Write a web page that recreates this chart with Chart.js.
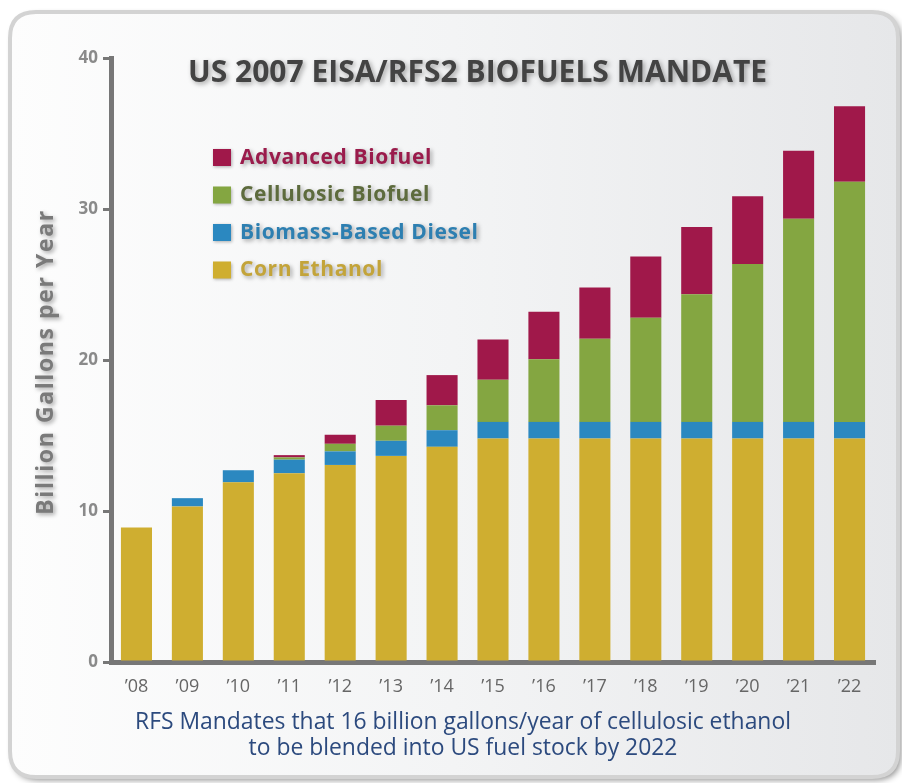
<!DOCTYPE html>
<html>
<head>
<meta charset="utf-8">
<title>US 2007 EISA/RFS2 Biofuels Mandate</title>
<script src="https://cdn.jsdelivr.net/npm/chart.js@4.4.1/dist/chart.umd.min.js"></script>
<style>
  html, body { margin: 0; padding: 0; background: #fff; }
</style>
</head>
<body>
<canvas id="myChart" width="902" height="783"></canvas>
<script>
// mandate volumes, billion gallons per year
const years = ['\u201908', '\u201909', '\u201910', '\u201911', '\u201912', '\u201913', '\u201914', '\u201915',
               '\u201916', '\u201917', '\u201918', '\u201919', '\u201920', '\u201921', '\u201922'];
const cornEthanol   = [8.9, 10.3, 11.9, 12.5, 13.05, 13.65, 14.25, 14.8, 14.8, 14.8, 14.8, 14.8, 14.8, 14.8, 14.8];
const biomassDiesel = [0, 0.55, 0.8, 0.9, 0.9, 1.0, 1.1, 1.1, 1.1, 1.1, 1.1, 1.1, 1.1, 1.1, 1.1];
const cellulosic    = [0, 0, 0, 0.15, 0.5, 1.0, 1.65, 2.8, 4.15, 5.5, 6.9, 8.45, 10.45, 13.45, 15.9];
const advanced      = [0, 0, 0, 0.15, 0.6, 1.7, 2.0, 2.65, 3.15, 3.4, 4.05, 4.45, 4.5, 4.5, 5.0];
const yTicks = [0, 10, 20, 30, 40];

const chartTitle = 'US 2007 EISA/RFS2 BIOFUELS MANDATE';
const yTitle = 'Billion Gallons per Year';
const footer = ['RFS Mandates that 16 billion gallons/year of cellulosic ethanol',
                'to be blended into US fuel stock by 2022'];

const legendText = {
    'Advanced Biofuel': '#9a1b4b',
    'Cellulosic Biofuel': '#5d6b3d',
    'Biomass-Based Diesel': '#2d7fb1',
    'Corn Ethanol': '#c3a43a'
};

function roundRect(ctx, x, y, w, h, r) {
    ctx.beginPath();
    ctx.moveTo(x + r, y);
    ctx.lineTo(x + w - r, y);
    ctx.quadraticCurveTo(x + w, y, x + w, y + r);
    ctx.lineTo(x + w, y + h - r);
    ctx.quadraticCurveTo(x + w, y + h, x + w - r, y + h);
    ctx.lineTo(x + r, y + h);
    ctx.quadraticCurveTo(x, y + h, x, y + h - r);
    ctx.lineTo(x, y + r);
    ctx.quadraticCurveTo(x, y, x + r, y);
    ctx.closePath();
}

// text with the soft grey halo used all over the panel
function shadowText(ctx, text, x, y, font, color, blur, spacing) {
    ctx.save();
    ctx.font = font;
    ctx.letterSpacing = (spacing || 0) + 'px';
    ctx.fillStyle = color;
    ctx.shadowColor = 'rgba(0,0,0,0.35)';
    ctx.shadowBlur = blur;
    ctx.shadowOffsetX = 2;
    ctx.shadowOffsetY = 2;
    ctx.fillText(text, x, y);
    ctx.restore();
}

const panelPlugin = {
    id: 'panel',
    beforeDraw(chart) {
        const ctx = chart.ctx;
        ctx.save();
        roundRect(ctx, 10, 12, 888, 765, 26);
        const g = ctx.createLinearGradient(10, 0, 898, 0);
        g.addColorStop(0, '#fdfdfd');
        g.addColorStop(0.5, '#f3f4f5');
        g.addColorStop(1, '#e6e7e9');
        ctx.fillStyle = g;
        ctx.shadowColor = 'rgba(0,0,0,0.45)';
        ctx.shadowBlur = 6;
        ctx.shadowOffsetX = 3;
        ctx.shadowOffsetY = 3;
        ctx.fill();
        ctx.shadowColor = 'transparent';
        ctx.lineWidth = 4;
        ctx.strokeStyle = '#d3d3d3';
        ctx.stroke();
        ctx.restore();
    },
    afterDraw(chart) {
        const ctx = chart.ctx;
        const area = chart.chartArea;

        // title
        ctx.save();
        ctx.textAlign = 'left';
        ctx.textBaseline = 'alphabetic';
        ctx.font = 'bold 26px "Open Sans"';
        let w = ctx.measureText(chartTitle).width;
        let size = Math.min(30, 26 * 622 / w);
        shadowText(ctx, chartTitle, 188, 82, 'bold ' + size.toFixed(1) + 'px "Open Sans"', '#434343', 5);

        // legend, top series first
        const sets = chart.data.datasets.slice().reverse();
        sets.forEach((ds, i) => {
            const y = 158 + i * 37.5;
            ctx.save();
            ctx.shadowColor = 'rgba(0,0,0,0.3)';
            ctx.shadowBlur = 3;
            ctx.shadowOffsetX = 1;
            ctx.shadowOffsetY = 1;
            ctx.fillStyle = ds.backgroundColor;
            ctx.fillRect(213, y - 9, 18, 17);
            ctx.restore();
            ctx.textBaseline = 'middle';
            shadowText(ctx, ds.label, 240, y, 'bold 21px "Open Sans"', legendText[ds.label], 4, 0.6);
        });

        // y axis title
        ctx.save();
        ctx.translate(46, 362);
        ctx.rotate(-Math.PI / 2);
        ctx.textAlign = 'center';
        ctx.textBaseline = 'middle';
        shadowText(ctx, yTitle, 0, 0, 'bold 23px "Open Sans"', '#7a7a7a', 4, 1.6);
        ctx.restore();

        // footer note
        ctx.textAlign = 'center';
        ctx.textBaseline = 'middle';
        ctx.font = '19px "Open Sans"';
        w = ctx.measureText(footer[0]).width;
        size = 19 * 655 / w;
        ctx.font = size.toFixed(1) + 'px "Open Sans"';
        ctx.fillStyle = '#2c4a7e';
        ctx.fillText(footer[0], 463, 722);
        ctx.fillText(footer[1], 463, 748);
        ctx.restore();
    }
};

const ctx = document.getElementById('myChart').getContext('2d');

const myChart = new Chart(ctx, {
    type: 'bar',
    data: {
        labels: years,
        datasets: [
            { label: 'Corn Ethanol', data: cornEthanol, backgroundColor: '#cfae30' },
            { label: 'Biomass-Based Diesel', data: biomassDiesel, backgroundColor: '#2b88c0' },
            { label: 'Cellulosic Biofuel', data: cellulosic, backgroundColor: '#84a641' },
            { label: 'Advanced Biofuel', data: advanced, backgroundColor: '#a0184a' }
        ]
    },
    options: {
        responsive: false,
        animation: false,
        layout: {
            padding: { left: 0, right: 27, top: 58, bottom: 81 }
        },
        datasets: {
            bar: {
                categoryPercentage: 1,
                barPercentage: 0.61,
                borderWidth: 0
            }
        },
        scales: {
            x: {
                stacked: true,
                afterFit: (scale) => { scale.height = 40; },
                grid: { display: true, drawOnChartArea: false, drawTicks: false, color: 'rgba(0,0,0,0)' },
                border: { display: true, color: '#777777', width: 5 },
                ticks: {
                    color: '#666666',
                    padding: 14,
                    font: { family: 'Open Sans', size: 18 }
                }
            },
            y: {
                stacked: true,
                min: 0,
                max: 40,
                afterFit: (scale) => { scale.width = 111; },
                afterBuildTicks: (scale) => { scale.ticks = yTicks.map(v => ({ value: v })); },
                grid: { drawOnChartArea: false, drawTicks: true, tickLength: 8, color: '#777777', lineWidth: 3 },
                border: { display: true, color: '#777777', width: 5 },
                ticks: {
                    color: '#8a8a8a',
                    padding: 5,
                    font: { family: 'Open Sans', size: 17, weight: 'bold' }
                }
            }
        },
        plugins: {
            legend: { display: false },
            tooltip: { enabled: false }
        }
    },
    plugins: [panelPlugin]
});
</script>
</body>
</html>
